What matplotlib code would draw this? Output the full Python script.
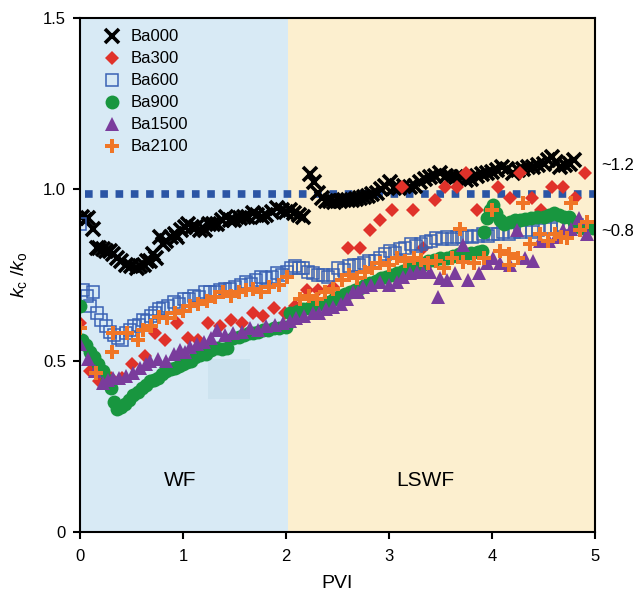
import matplotlib
matplotlib.use("Agg")
import matplotlib.pyplot as plt
from matplotlib.patches import Rectangle

plt.rcParams['font.family'] = ['Liberation Sans', 'DejaVu Sans']
plt.rcParams['mathtext.fontset'] = 'custom'
plt.rcParams['mathtext.rm'] = 'Liberation Sans'
plt.rcParams['mathtext.it'] = 'Liberation Sans:italic'

# ---------------- data ----------------
ba000_x = [0.02, 0.05, 0.08, 0.13, 0.17, 0.19, 0.22, 0.25, 0.29, 0.32, 0.36, 0.40, 0.45, 0.50, 0.55, 0.58,
           0.62, 0.65, 0.68, 0.71, 0.74, 0.78, 0.81, 0.84, 0.88, 0.92, 0.94, 0.98, 1.02, 1.05, 1.09, 1.13,
           1.17, 1.21, 1.25, 1.29, 1.33, 1.38, 1.42, 1.46, 1.50, 1.55, 1.59, 1.63, 1.68, 1.72, 1.77, 1.81,
           1.86, 1.91, 1.96, 2.00, 2.04, 2.08, 2.13, 2.17, 2.23, 2.27, 2.31, 2.35, 2.39, 2.43, 2.47, 2.52,
           2.56, 2.60, 2.64, 2.68, 2.72, 2.76, 2.80, 2.84, 2.88, 2.92, 2.96, 3.01, 3.05, 3.10, 3.15, 3.20,
           3.25, 3.30, 3.35, 3.40, 3.45, 3.50, 3.55, 3.60, 3.65, 3.70, 3.75, 3.80, 3.85, 3.90, 3.95, 4.00,
           4.05, 4.10, 4.15, 4.20, 4.25, 4.30, 4.35, 4.40, 4.45, 4.50, 4.54, 4.58, 4.62, 4.66, 4.71, 4.76,
           4.80]
ba000_y = [0.92, 0.91, 0.915, 0.885, 0.83, 0.83, 0.825, 0.82, 0.82, 0.81, 0.80, 0.79, 0.78, 0.775, 0.77, 0.775,
           0.78, 0.79, 0.79, 0.81, 0.80, 0.86, 0.84, 0.85, 0.86, 0.87, 0.86, 0.88, 0.89, 0.90, 0.89, 0.89,
           0.88, 0.88, 0.90, 0.90, 0.90, 0.91, 0.92, 0.91, 0.91, 0.915, 0.92, 0.92, 0.93, 0.925, 0.92, 0.925,
           0.935, 0.945, 0.94, 0.935, 0.94, 0.93, 0.925, 0.92, 1.045, 1.02, 0.99, 0.975, 0.965, 0.965, 0.962, 0.965,
           0.968, 0.968, 0.97, 0.972, 0.975, 0.977, 0.98, 0.985, 0.99, 1.00, 1.01, 1.02, 1.005, 1.005, 1.01, 1.006,
           1.01, 1.02, 1.03, 1.035, 1.04, 1.047, 1.04, 1.035, 1.035, 1.035, 1.027, 1.03, 1.04, 1.045, 1.047, 1.05,
           1.055, 1.064, 1.06, 1.047, 1.055, 1.06, 1.064, 1.064, 1.07, 1.075, 1.085, 1.094, 1.08, 1.064, 1.07, 1.075,
           1.085]

ba300_x = [0.00, 0.10, 0.19, 0.30, 0.41, 0.51, 0.63, 0.73, 0.83, 0.94, 1.05, 1.15, 1.24, 1.36, 1.47, 1.57,
           1.68, 1.78, 1.88, 1.99, 2.09, 2.20, 2.31, 2.46, 2.60, 2.72, 2.82, 2.91, 3.03, 3.13, 3.23, 3.33,
           3.45, 3.54, 3.66, 3.75, 3.85, 4.06, 4.17, 4.27, 4.39, 4.48, 4.58, 4.69, 4.81, 4.90]
ba300_y = [0.61, 0.47, 0.44, 0.45, 0.45, 0.49, 0.515, 0.58, 0.56, 0.61, 0.565, 0.56, 0.61, 0.60, 0.62, 0.61,
           0.64, 0.63, 0.655, 0.64, 0.66, 0.705, 0.705, 0.715, 0.83, 0.83, 0.88, 0.91, 0.94, 1.006, 0.94, 0.83,
           0.97, 1.006, 1.006, 1.047, 0.94, 1.006, 0.974, 1.047, 0.974, 0.94, 1.006, 1.006, 0.974, 1.047]

ba600_x = [0.00, 0.03, 0.07, 0.10, 0.13, 0.17, 0.21, 0.25, 0.29, 0.33, 0.37, 0.41, 0.45, 0.49, 0.53, 0.57,
           0.61, 0.65, 0.69, 0.73, 0.77, 0.81, 0.86, 0.91, 0.96, 1.01, 1.06, 1.11, 1.16, 1.21, 1.26, 1.31,
           1.36, 1.41, 1.46, 1.51, 1.56, 1.61, 1.66, 1.71, 1.76, 1.81, 1.86, 1.91, 1.96, 2.01, 2.05, 2.09,
           2.13, 2.17, 2.21, 2.26, 2.31, 2.36, 2.41, 2.46, 2.51, 2.56, 2.61, 2.66, 2.71, 2.76, 2.81, 2.86,
           2.91, 2.96, 3.01, 3.06, 3.11, 3.16, 3.21, 3.26, 3.31, 3.36, 3.41, 3.46, 3.51, 3.56, 3.61, 3.66,
           3.71, 3.76, 3.81, 3.86, 3.91, 3.96, 4.01, 4.06, 4.11, 4.16, 4.21, 4.27, 4.33, 4.39, 4.45, 4.51,
           4.57, 4.63, 4.69, 4.76, 4.82, 4.88, 4.94, 4.98]
ba600_y = [0.90, 0.705, 0.69, 0.66, 0.70, 0.64, 0.62, 0.60, 0.585, 0.575, 0.565, 0.56, 0.58, 0.59, 0.60, 0.605,
           0.62, 0.615, 0.63, 0.64, 0.65, 0.655, 0.66, 0.67, 0.665, 0.68, 0.68, 0.69, 0.685, 0.70, 0.70, 0.70,
           0.705, 0.71, 0.71, 0.715, 0.72, 0.73, 0.725, 0.735, 0.745, 0.74, 0.745, 0.755, 0.75, 0.76, 0.77, 0.775,
           0.77, 0.77, 0.76, 0.755, 0.75, 0.75, 0.745, 0.75, 0.77, 0.765, 0.775, 0.78, 0.78, 0.785, 0.79, 0.79,
           0.80, 0.81, 0.82, 0.815, 0.825, 0.83, 0.84, 0.835, 0.84, 0.845, 0.85, 0.857, 0.855, 0.86, 0.855, 0.86,
           0.86, 0.865, 0.86, 0.865, 0.87, 0.865, 0.87, 0.87, 0.875, 0.87, 0.875, 0.875, 0.88, 0.875, 0.88, 0.89,
           0.885, 0.89, 0.895, 0.90, 0.895, 0.89, 0.886, 0.886]

ba900_x = [0.00, 0.02, 0.06, 0.10, 0.14, 0.18, 0.22, 0.26, 0.30, 0.33, 0.36, 0.40, 0.44, 0.48, 0.52, 0.56,
           0.60, 0.64, 0.68, 0.72, 0.76, 0.80, 0.84, 0.88, 0.92, 0.96, 1.00, 1.04, 1.08, 1.12, 1.17, 1.22,
           1.27, 1.33, 1.38, 1.43, 1.49, 1.54, 1.59, 1.64, 1.68, 1.73, 1.78, 1.83, 1.88, 1.93, 2.00, 2.04,
           2.08, 2.12, 2.17, 2.22, 2.27, 2.32, 2.37, 2.42, 2.47, 2.52, 2.57, 2.62, 2.67, 2.72, 2.77, 2.82,
           2.87, 2.92, 2.97, 3.02, 3.08, 3.14, 3.20, 3.26, 3.32, 3.38, 3.44, 3.50, 3.56, 3.62, 3.68, 3.74,
           3.80, 3.86, 3.90, 3.92, 3.95, 3.98, 4.01, 4.04, 4.08, 4.12, 4.17, 4.22, 4.27, 4.32, 4.38, 4.44,
           4.50, 4.55, 4.60, 4.65, 4.70, 4.75, 4.80, 4.85, 4.91, 4.98]
ba900_y = [0.66, 0.56, 0.545, 0.525, 0.51, 0.49, 0.47, 0.445, 0.42, 0.38, 0.36, 0.365, 0.375, 0.385, 0.40, 0.41,
           0.42, 0.43, 0.44, 0.445, 0.45, 0.46, 0.47, 0.475, 0.48, 0.485, 0.49, 0.495, 0.50, 0.51, 0.516, 0.52,
           0.53, 0.536, 0.535, 0.536, 0.565, 0.57, 0.575, 0.58, 0.58, 0.585, 0.59, 0.59, 0.595, 0.595, 0.598, 0.64,
           0.64, 0.645, 0.65, 0.655, 0.66, 0.665, 0.668, 0.672, 0.68, 0.69, 0.695, 0.70, 0.705, 0.712, 0.72, 0.727,
           0.733, 0.74, 0.745, 0.75, 0.755, 0.762, 0.77, 0.775, 0.78, 0.79, 0.795, 0.80, 0.80, 0.805, 0.81, 0.812,
           0.815, 0.818, 0.82, 0.875, 0.915, 0.94, 0.955, 0.93, 0.91, 0.90, 0.905, 0.91, 0.91, 0.912, 0.915, 0.92,
           0.92, 0.925, 0.93, 0.925, 0.92, 0.92, 0.905, 0.89, 0.885, 0.886]

ba1500_x = [0.00, 0.08, 0.15, 0.22, 0.27, 0.32, 0.38, 0.45, 0.52, 0.58, 0.64, 0.68, 0.76, 0.84, 0.91, 0.97,
            1.02, 1.07, 1.14, 1.20, 1.27, 1.33, 1.41, 1.49, 1.57, 1.65, 1.73, 1.81, 1.89, 1.97, 2.04, 2.10,
            2.18, 2.26, 2.32, 2.39, 2.46, 2.53, 2.59, 2.65, 2.70, 2.75, 2.83, 2.91, 3.00, 3.08, 3.14, 3.20,
            3.27, 3.33, 3.40, 3.48, 3.50, 3.56, 3.64, 3.72, 3.77, 3.87, 3.95, 4.01, 4.08, 4.17, 4.24, 4.32,
            4.40, 4.47, 4.55, 4.62, 4.69, 4.77, 4.84, 4.92]
ba1500_y = [0.55, 0.506, 0.47, 0.434, 0.445, 0.45, 0.45, 0.457, 0.465, 0.478, 0.49, 0.50, 0.505, 0.50, 0.52, 0.53,
            0.525, 0.54, 0.55, 0.555, 0.565, 0.59, 0.575, 0.58, 0.585, 0.595, 0.59, 0.60, 0.605, 0.61, 0.615, 0.624,
            0.63, 0.64, 0.64, 0.65, 0.656, 0.665, 0.68, 0.70, 0.70, 0.715, 0.72, 0.73, 0.72, 0.73, 0.745, 0.755,
            0.76, 0.76, 0.76, 0.685, 0.74, 0.735, 0.755, 0.837, 0.735, 0.755, 0.785, 0.80, 0.785, 0.78, 0.88, 0.80,
            0.79, 0.85, 0.85, 0.86, 0.88, 0.885, 0.915, 0.87]

ba2100_x = [0.00, 0.16, 0.31, 0.32, 0.46, 0.56, 0.61, 0.69, 0.77, 0.85, 0.92, 1.00, 1.07, 1.15, 1.23, 1.31,
            1.39, 1.47, 1.54, 1.61, 1.68, 1.76, 1.84, 1.93, 2.01, 2.14, 2.22, 2.30, 2.38, 2.46, 2.54, 2.61,
            2.69, 2.77, 2.84, 2.91, 3.00, 3.08, 3.16, 3.24, 3.31, 3.38, 3.46, 3.53, 3.61, 3.69, 3.72, 3.83,
            3.92, 4.00, 4.08, 4.16, 4.16, 4.25, 4.30, 4.37, 4.47, 4.54, 4.61, 4.67, 4.73, 4.77, 4.85, 4.92]
ba2100_y = [0.595, 0.465, 0.525, 0.58, 0.58, 0.56, 0.59, 0.60, 0.627, 0.625, 0.64, 0.645, 0.66, 0.665, 0.675, 0.685,
            0.70, 0.69, 0.70, 0.705, 0.71, 0.70, 0.715, 0.72, 0.745, 0.68, 0.69, 0.68, 0.70, 0.71, 0.735, 0.75,
            0.74, 0.76, 0.77, 0.785, 0.78, 0.80, 0.79, 0.80, 0.795, 0.785, 0.79, 0.77, 0.80, 0.885, 0.787, 0.785,
            0.80, 0.94, 0.82, 0.81, 0.78, 0.80, 0.96, 0.84, 0.87, 0.85, 0.87, 0.86, 0.857, 0.96, 0.88, 0.905]

ref_line_y = 0.985
wf_end = 2.02
x_ticks = [0, 1, 2, 3, 4, 5]
y_ticks = [0, 0.5, 1.0, 1.5]
y_tick_labels = ['0', '0.5', '1.0', '1.5']

# ---------------- figure ----------------
fig = plt.figure(figsize=(6.44, 5.94), dpi=100)
ax = fig.add_axes([0.124, 0.104, 0.800, 0.866])

ax.axvspan(0, wf_end, color='#d8eaf5', zorder=0, lw=0)
ax.axvspan(wf_end, 5, color='#fcefcf', zorder=0, lw=0)
ax.add_patch(Rectangle((1.24, 0.388), 0.41, 0.116, facecolor='#cde3ef', edgecolor='none', zorder=0.5))

ax.plot([0.05, 5.0], [ref_line_y, ref_line_y], color='#2b55a5', lw=5.5,
        linestyle=(0, (1, 1)), solid_capstyle='butt', dash_capstyle='butt', zorder=1)

ax.plot(ba000_x, ba000_y, 'x', color='black', ms=9.5, mew=2.6, label='Ba000', zorder=2)
ax.plot(ba300_x, ba300_y, 'D', color='#e0322a', ms=7.5, mew=0, label='Ba300', zorder=2)
ax.plot(ba600_x, ba600_y, 's', mfc='none', mec='#3a62b4', ms=9, mew=1.1, label='Ba600', zorder=2)
ax.plot(ba900_x, ba900_y, 'o', color='#18963f', ms=10, mew=0, label='Ba900', zorder=2)
ax.plot(ba1500_x, ba1500_y, '^', color='#7a3c9c', ms=9.5, mew=0, label='Ba1500', zorder=2)
ax.plot(ba2100_x, ba2100_y, 'P', color='#f07626', ms=10, mew=0, label='Ba2100', zorder=2)

ax.set_xlim(0, 5)
ax.set_ylim(0, 1.5)
ax.set_xticks(x_ticks)
ax.set_yticks(y_ticks)
ax.set_yticklabels(y_tick_labels)
ax.tick_params(direction='out', length=5, width=1.5, labelsize=12, colors='black', pad=5)
ax.tick_params(axis='x', pad=7)
for s in ax.spines.values():
    s.set_linewidth(1.5)
    s.set_zorder(5)

ax.set_xlabel('PVI', fontsize=14, labelpad=8)
ax.set_ylabel(r'$k_\mathrm{c}$ /$k_\mathrm{o}$', fontsize=14, labelpad=10)

ax.text(0.97, 0.15, 'WF', fontsize=15, ha='center', va='center')
ax.text(3.35, 0.15, 'LSWF', fontsize=15, ha='center', va='center')

ax.text(1.012, 1.07, '~1.2', transform=ax.get_yaxis_transform(), fontsize=12, ha='left', va='center', clip_on=False)
ax.text(1.012, 0.877, '~0.8', transform=ax.get_yaxis_transform(), fontsize=12, ha='left', va='center', clip_on=False)

leg = ax.legend(loc='upper left', frameon=False, fontsize=12, handlelength=1.2, handletextpad=0.5,
                labelspacing=0.42, borderaxespad=0.3, bbox_to_anchor=(0.02, 1.0))

fig.savefig('out.png', dpi=100)
